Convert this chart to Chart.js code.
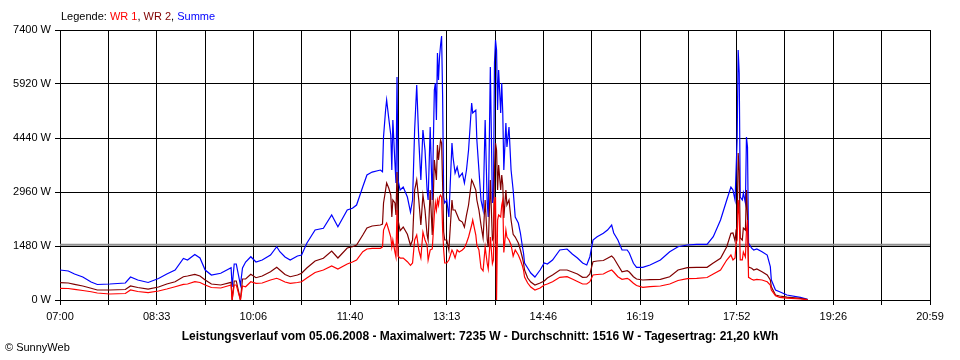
<!DOCTYPE html>
<html><head><meta charset="utf-8">
<script src="https://cdn.jsdelivr.net/npm/chart.js@4.4.1/dist/chart.umd.min.js"></script>
<style>
html,body{margin:0;padding:0;background:#fff;}
#wrap{position:relative;width:960px;height:360px;font-family:"Liberation Sans",Arial,sans-serif;}
canvas{position:absolute;left:0;top:0;}
.txt{position:absolute;white-space:nowrap;font-size:11px;line-height:13px;color:#000;}
</style></head>
<body><div id="wrap">
<canvas id="c" width="960" height="360"></canvas>
<div class="txt" style="left:61px;top:10px;">Legende: <span style="color:#ff0000">WR 1</span>, <span style="color:#800000">WR 2</span>, <span style="color:#0000ff">Summe</span></div>
<div class="txt" style="left:0;width:960px;text-align:center;top:329px;font-weight:bold;font-size:12px;line-height:14px;">Leistungsverlauf vom 05.06.2008 - Maximalwert: 7235 W - Durchschnitt: 1516 W - Tagesertrag: 21,20 kWh</div>
<div class="txt" style="left:5px;top:341px;">© SunnyWeb</div>
</div>
<script>
const times = ["07:00","07:08","07:14","07:22","07:30","07:36","07:48","08:03","08:08","08:15","08:25","08:35","08:43","08:51","08:59","09:03","09:10","09:15","09:20","09:26","09:35","09:45","09:46","09:48","09:50","09:54","09:56","09:59","10:04","10:09","10:15","10:23","10:29","10:32","10:37","10:42","10:49","10:53","10:58","11:06","11:14","11:22","11:28","11:37","11:42","11:46","11:52","11:56","12:01","12:09","12:11","12:12","12:14","12:15","12:17","12:19","12:20","12:21","12:23","12:24","12:25","12:26","12:28","12:31","12:35","12:38","12:40","12:42","12:44","12:46","12:48","12:50","12:52","12:54","12:55","12:57","12:59","13:01","13:02","13:03","13:04","13:05","13:06","13:07","13:08","13:09","13:10","13:11","13:13","13:15","13:18","13:19","13:21","13:23","13:25","13:28","13:30","13:32","13:34","13:37","13:38","13:41","13:42","13:44","13:46","13:48","13:50","13:52","13:53","13:55","13:57","13:58","13:59","14:00","14:01","14:02","14:03","14:05","14:06","14:07","14:08","14:10","14:11","14:13","14:15","14:17","14:19","14:22","14:24","14:26","14:27","14:28","14:31","14:34","14:38","14:43","14:47","14:50","14:55","15:02","15:09","15:14","15:19","15:24","15:28","15:31","15:34","15:38","15:44","15:48","15:52","15:54","15:58","16:02","16:07","16:09","16:13","16:16","16:22","16:29","16:39","16:48","16:56","17:05","17:14","17:24","17:30","17:37","17:43","17:47","17:49","17:51","17:52","17:53","17:54","17:55","17:56","17:58","17:59","18:01","18:02","18:03","18:04","18:07","18:09","18:12","18:17","18:22","18:25","18:26","18:30","18:34","18:41","18:54","19:01"];
const wr1 = [321,315,293,260,227,192,164,178,274,233,200,247,301,364,430,438,501,480,411,343,329,411,0,411,411,0,384,364,501,458,466,548,595,562,493,458,480,501,603,754,822,932,849,986,1041,1096,1323,1397,1417,1417,1452,1918,2055,2110,1918,1726,1452,1644,1315,1178,2466,1200,1150,1150,1050,950,1014,1644,1781,1370,1151,1863,1644,1507,1096,1370,1400,2329,2658,2466,2740,2603,2822,2877,2822,1918,1370,1014,1014,1096,1370,1315,1150,1370,1315,1370,1425,1562,1726,2055,2192,1781,1507,1370,877,800,1452,1000,850,1726,1000,1100,2658,2822,0,2192,2329,2274,2603,2740,1300,1918,1726,1644,1507,1200,1370,1233,1096,932,822,630,466,356,274,329,411,438,501,622,638,575,507,438,438,501,685,699,712,775,822,767,638,567,595,562,458,397,348,364,384,438,534,584,595,617,712,822,1096,1233,1096,1151,1562,1644,2740,2329,1100,1100,1315,1178,1918,2192,620,570,548,567,548,501,411,274,118,74,50,27,8];
const wr2 = [474,466,430,384,321,274,274,288,384,343,301,356,438,501,638,658,704,658,548,438,411,485,0,521,521,0,575,575,704,611,658,775,896,822,699,638,685,732,877,1069,1143,1343,1151,1425,1460,1507,1781,1973,2028,2055,2082,2658,3014,3206,3069,2877,2274,2740,2658,2329,3507,2192,1900,2000,1800,1500,1644,3014,3288,2740,2055,2877,2466,1781,1644,3014,1781,3836,3562,3288,4247,3836,4110,4384,4302,3151,1863,1644,1644,1370,2740,2466,2466,2329,2192,2137,2000,2329,2603,3288,3233,3014,2740,2466,2055,1700,2740,1650,1450,3288,1650,1700,3562,4302,4110,3014,3699,3014,3425,3151,2250,3014,2603,2740,2192,1800,1726,1562,1370,1151,1014,822,603,493,411,466,521,603,685,822,822,767,712,622,623,712,1049,1069,1082,1143,1206,1151,959,775,803,767,638,575,548,556,567,638,822,885,896,896,1014,1143,1460,1828,1836,1617,1918,2000,4028,3562,1700,1640,1973,1918,3014,2274,900,870,822,850,776,685,548,364,137,110,80,47,10];
const summe = [822,795,712,630,493,425,438,466,630,548,480,589,712,822,1137,1096,1247,1151,822,685,732,885,356,986,986,411,877,1041,1186,1041,1096,1233,1460,1323,1178,1096,1206,1233,1554,1918,1965,2329,2008,2466,2513,2603,3104,3425,3507,3562,3515,4474,5206,5480,4987,4521,3562,4932,3754,3206,6110,3288,3014,3096,2822,2411,2740,4658,5891,4384,3288,4658,4110,3014,2740,4740,2740,5754,5946,4932,6768,6028,6658,6987,7235,5562,2822,2658,2740,2274,4302,3918,3480,3644,3370,3480,3206,3562,4110,5398,5124,5206,4384,3562,2740,2466,4932,2658,2274,6384,2658,2822,6494,7124,6850,5206,6302,5124,5946,5124,3562,4850,4192,4740,3562,3014,2274,2110,1836,1452,1288,1014,877,740,630,822,1014,986,1096,1370,1397,1260,1151,1014,959,1186,1644,1734,1828,1918,2055,1836,1644,1370,1370,1288,1006,896,896,959,1096,1323,1460,1507,1526,1526,1734,2192,2740,3096,3014,2740,3562,4384,6850,6220,2822,2740,2932,2658,4466,4192,1562,1420,1370,1400,1324,1233,913,548,274,228,137,74,19];
const durchschnitt = 1516;
const yTicks = [0,1480,2960,4440,5920,7400];
const xTickLabels = ["07:00","08:33","10:06","11:40","13:13","14:46","16:19","17:52","19:26","20:59"];
const dayStart = "07:00", dayEnd = "20:59";

const toMin = t => { const [h,m] = t.split(':').map(Number); return h*60+m; };
const t0 = toMin(dayStart), tEnd = toMin(dayEnd) - t0;
const pts = arr => arr.map((v,i) => ({x: toMin(times[i]) - t0, y: v}));
const font = {family: '"Liberation Sans", Arial, sans-serif', size: 11};

new Chart(document.getElementById('c'), {
  type: 'line',
  data: { datasets: [
    {label:'WR 1', data: pts(wr1), borderColor:'#ff0000'},
    {label:'WR 2', data: pts(wr2), borderColor:'#800000'},
    {label:'Summe', data: pts(summe), borderColor:'#0000ff'},
    {label:'Durchschnitt', data: [{x:0,y:durchschnitt},{x:tEnd,y:durchschnitt}], borderColor:'#909090', borderWidth:2}
  ]},
  options: {
    responsive:false, animation:false, devicePixelRatio:1,
    layout:{padding:{top:30,right:30,left:0,bottom:0}},
    elements:{point:{radius:0}, line:{borderWidth:1.2, tension:0}},
    plugins:{legend:{display:false}, tooltip:{enabled:false}, title:{display:false}},
    scales:{
      x:{type:'linear', min:0, max:tEnd,
        afterBuildTicks: s => { const n = (xTickLabels.length-1)*2; s.ticks = Array.from({length:n+1}, (_,i) => ({value: i*tEnd/n})); },
        afterFit: s => { s.height = 60; },
        ticks:{autoSkip:false, maxRotation:0, color:'#000', font, padding:5,
          callback:(v,i) => i%2===0 ? xTickLabels[i/2] : ''},
        grid:{color:'#000', lineWidth:1, tickLength:5, drawTicks:true},
        border:{color:'#000'}},
      y:{min:0, max:7400,
        afterBuildTicks: s => { s.ticks = yTicks.map(v => ({value:v})); },
        afterFit: s => { s.width = 60; },
        ticks:{color:'#000', font, padding:4, callback: v => v + ' W'},
        grid:{color:'#000', lineWidth:1, tickLength:5},
        border:{color:'#000'}}
    }
  }
});
</script>
</body></html>
